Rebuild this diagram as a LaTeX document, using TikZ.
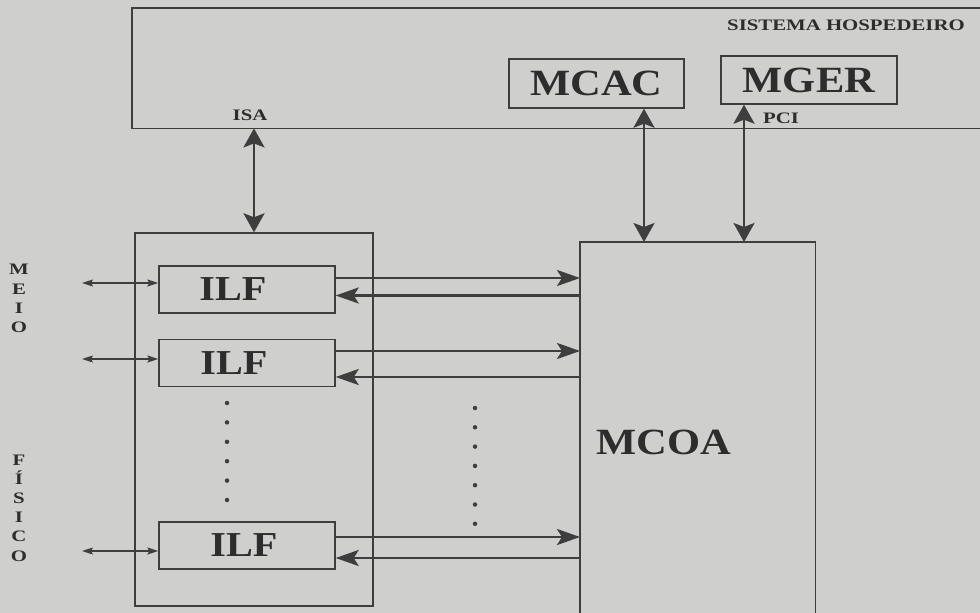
\documentclass[tikz,border=0pt]{standalone}
\usepackage{fontspec}
\usetikzlibrary{arrows.meta,calc}
\newfontfamily\bigfam[FakeStretch=1.15]{Liberation Serif}
\newfontfamily\smallfam[FakeStretch=1.3]{Liberation Serif}
\definecolor{bgC}{RGB}{207,207,205}
\definecolor{lineC}{RGB}{62,62,62}
\definecolor{txtC}{RGB}{45,45,45}
\tikzset{
  boxline/.style={draw=lineC, line width=1.4pt},
  blockbox/.style={boxline, inner sep=0pt, font=\bigfam\bfseries\fontsize{37}{37}\selectfont, text=txtC},
  ilfbox/.style={blockbox, minimum width=176pt, minimum height=47pt, font=\bigfam\bfseries\fontsize{35}{35}\selectfont},
  smalllabel/.style={inner sep=0pt, text=txtC, font=\smallfam\bfseries\fontsize{16}{16}\selectfont},
  vertlabel/.style={inner sep=0pt, text=txtC, align=center, font=\smallfam\bfseries\fontsize{16}{19.2}\selectfont},
  harrow/.style={draw=lineC, line width=2.6pt, -{Stealth[length=23pt,width=16pt,inset=5pt]}},
  varrow/.style={draw=lineC, line width=2.8pt, {Stealth[length=19pt,width=21pt,inset=4pt]}-{Stealth[length=19pt,width=21pt,inset=4pt]}},
  medarrow/.style={draw=lineC, line width=1.4pt, {Stealth[length=11pt,width=7pt,inset=2pt]}-{Stealth[length=11pt,width=7pt,inset=2pt]}},
  dotmark/.style={fill=lineC, draw=none, circle, inner sep=0pt, minimum size=4.5pt}
}
\begin{document}
\begin{tikzpicture}[x=1pt,y=-1pt]
\fill[bgC] (0,0) rectangle (980,613);
\useasboundingbox (0,0) rectangle (980,613);

% host system (right side open, off the picture)
\node[inner sep=0pt, minimum width=852pt, minimum height=120pt, anchor=north west] (host) at (132,8) {};
\draw[boxline] (host.north east) -- (host.north west) -- (host.south west) -- (host.south east);
\node[smalllabel] (hosttitle) at (846,25) {SISTEMA HOSPEDEIRO};

\node[blockbox, minimum width=175pt, minimum height=49pt] (mcac) at (596.5,83.5) {MCAC};
\node[blockbox, minimum width=176pt, minimum height=48pt] (mger) at (809,80) {MGER};

\node[smalllabel] (isa) at (250,115) {ISA};
\node[smalllabel] (pci) at (781,118) {PCI};

% left container
\node[boxline, inner sep=0pt, minimum width=238pt, minimum height=373pt] (lbox) at (254,419.5) {};

% MCOA (bottom open, off the picture)
\node[inner sep=0pt, minimum width=235pt, minimum height=380pt, anchor=north west] (mcoa) at (580,242) {};
\draw[boxline] (mcoa.south west) -- (mcoa.north west) -- (mcoa.north east) -- (mcoa.south east);
\node[blockbox, draw=none] (mcoalabel) at (664,442) {MCOA};

% ILF boxes
\node[ilfbox] (ilf1) at (247,289.5) {\hspace*{-28pt}ILF};
\node[ilfbox] (ilf2) at (247,363) {\hspace*{-26pt}ILF};
\node[ilfbox] (ilf3) at (247,545.5) {\hspace*{-6pt}ILF};

% vertical bus arrows
\coordinate (xisa) at (254,0);
\coordinate (xmcac) at (644,0);
\coordinate (xmger) at (744,0);
\draw[varrow] (xisa |- host.south) -- (xisa |- lbox.north);
\draw[varrow] (xmcac |- mcac.south) -- (xmcac |- mcoa.north);
\draw[varrow] (xmger |- mger.south) -- (xmger |- mcoa.north);

% ILF <-> MCOA
\foreach \i/\up/\dn in {1/11.5/-6,2/12/-14,3/8.5/-12.5} {
  \coordinate (out\i) at ($(ilf\i.east)+(0,\up pt)$);
  \coordinate (in\i) at ($(ilf\i.east)+(0,\dn pt)$);
  \draw[harrow] (out\i) -- (out\i -| mcoa.west);
  \draw[harrow] (in\i -| mcoa.west) -- (in\i);
}

% physical medium arrows
\coordinate (m1) at (82,283);
\coordinate (m2) at (82,359);
\coordinate (m3) at (82,551);
\draw[medarrow] (m1) -- (m1 -| ilf1.west);
\draw[medarrow] (m2) -- (m2 -| ilf2.west);
\draw[medarrow] (m3) -- (m3 -| ilf3.west);

% vertical labels
\node[vertlabel] (meio) at (19,298.5) {M\\E\\I\\O};
\node[vertlabel] (fisico) at (19,508) {F\\Í\\S\\I\\C\\O};

% ellipsis dots
\foreach \k in {0,...,5} { \node[dotmark] (ld\k) at (227,403+19.4*\k) {}; }
\foreach \k in {0,...,6} { \node[dotmark] (md\k) at (475,408+19.3*\k) {}; }
\end{tikzpicture}
\end{document}
